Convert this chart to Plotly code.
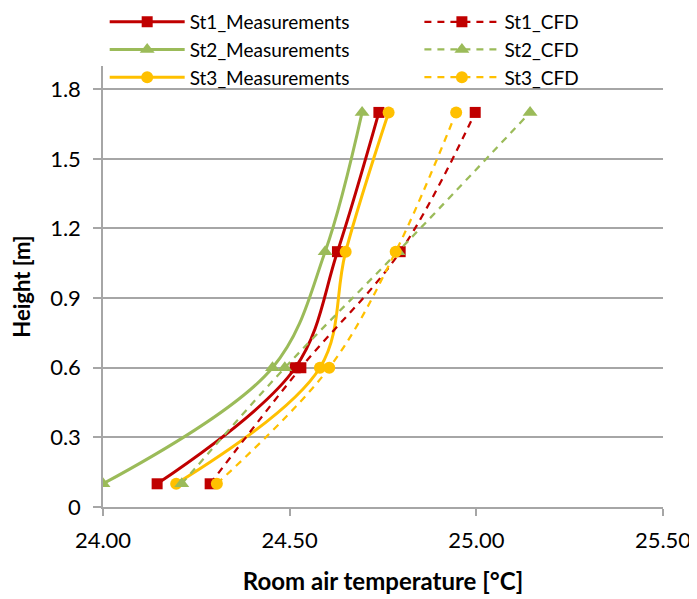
import plotly.graph_objects as go

heights = [0.1, 0.6, 1.1, 1.7]

st1_meas = [24.145, 24.515, 24.628, 24.739]
st2_meas = [24.00, 24.454, 24.595, 24.694]
st3_meas = [24.196, 24.581, 24.650, 24.765]

st1_cfd = [24.287, 24.530, 24.796, 24.997]
st2_cfd = [24.211, 24.487, 24.790, 25.144]
st3_cfd = [24.305, 24.606, 24.784, 24.946]

x_ticks = [24.0, 24.5, 25.0, 25.5]
x_tick_labels = ["24.00", "24.50", "25.00", "25.50"]
y_ticks = [0, 0.3, 0.6, 0.9, 1.2, 1.5, 1.8]
y_tick_labels = ["0", "0.3", "0.6", "0.9", "1.2", "1.5", "1.8"]

RED = "#C00000"
GREEN = "#9BBB59"
YELLOW = "#FFC000"
FONT = "Lato"

fig = go.Figure()

meas = [("St1_Measurements", st1_meas, RED, "square", 11),
        ("St2_Measurements", st2_meas, GREEN, "triangle-up", 13),
        ("St3_Measurements", st3_meas, YELLOW, "circle", 12)]
cfd = [("St1_CFD", st1_cfd, RED, "square", 11),
       ("St2_CFD", st2_cfd, GREEN, "triangle-up", 13),
       ("St3_CFD", st3_cfd, YELLOW, "circle", 12)]

for name, vals, col, sym, sz in meas:
    fig.add_trace(go.Scatter(
        x=vals, y=heights, name=name, mode="lines+markers",
        line=dict(color=col, width=3, shape="spline", smoothing=1.0),
        marker=dict(symbol=sym, size=sz, color=col),
        legend="legend", legendgroup=name))

for name, vals, col, sym, sz in cfd:
    fig.add_trace(go.Scatter(
        x=vals, y=heights, name=name, mode="lines+markers",
        line=dict(color=col, width=2.25, dash="7px,6px", shape="spline", smoothing=1.0),
        marker=dict(symbol=sym, size=sz, color=col),
        legend="legend2", legendgroup=name))

axis_gray = "#A6A6A6"

# the page body adds an 8px offset, so the figure is sized to fit the window
fig.update_layout(
    width=689, height=591,
    margin=dict(l=95, r=34, t=58, b=92, autoexpand=False),
    paper_bgcolor="white", plot_bgcolor="white",
    font=dict(family=FONT, color="#000000"),
    xaxis=dict(
        range=[24.0, 25.5], tickvals=x_ticks, ticktext=x_tick_labels,
        showgrid=False, zeroline=False,
        showline=True, linecolor=axis_gray, linewidth=1.5,
        ticks="outside", ticklen=7, tickcolor=axis_gray, tickwidth=1.5,
        tickfont=dict(family=FONT, size=22, color="#000000"),
        ticklabelstandoff=6,
        automargin=False,
        title=dict(text="<b>Room air temperature [°C]</b>",
                   font=dict(family=FONT, size=24, color="#000000"),
                   standoff=21),
    ),
    yaxis=dict(
        range=[0, 1.9], tickvals=y_ticks, ticktext=y_tick_labels,
        showgrid=True, gridcolor=axis_gray, gridwidth=1.5,
        zeroline=False,
        showline=True, linecolor=axis_gray, linewidth=1.5,
        ticks="outside", ticklen=8, tickcolor=axis_gray, tickwidth=1.5,
        tickfont=dict(family=FONT, size=22, color="#000000"),
        ticklabelstandoff=8,
        automargin=False,
        title=dict(text="<b>Height [m]</b>",
                   font=dict(family=FONT, size=22, color="#000000"),
                   standoff=14),
    ),
    legend=dict(
        x=0.003, y=1.143, xref="paper", yref="paper",
        xanchor="left", yanchor="top",
        orientation="v", bgcolor="rgba(0,0,0,0)",
        font=dict(family=FONT, size=19, color="#000000"),
        itemwidth=75, tracegroupgap=0,
    ),
    legend2=dict(
        x=0.565, y=1.143, xref="paper", yref="paper",
        xanchor="left", yanchor="top",
        orientation="v", bgcolor="rgba(0,0,0,0)",
        font=dict(family=FONT, size=19, color="#000000"),
        itemwidth=75, tracegroupgap=0,
    ),
)

fig.write_html("out.html")
